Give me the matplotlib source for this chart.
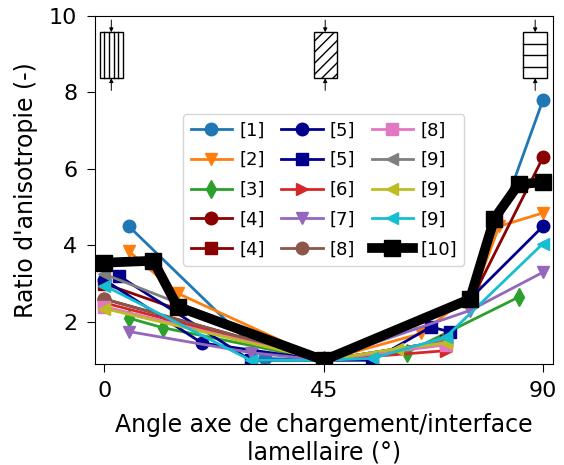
import matplotlib
matplotlib.use("Agg")
import matplotlib.pyplot as plt
from matplotlib.patches import Rectangle

# data (angle in degrees, anisotropy ratio)
labels = ["[1]", "[2]", "[3]", "[4]", "[4]", "[5]", "[5]", "[6]",
          "[7]", "[8]", "[8]", "[9]", "[9]", "[9]", "[10]"]
colors = ["C0", "C1", "C2", "darkred", "darkred", "darkblue", "darkblue", "C3",
          "C4", "C5", "C6", "C7", "C8", "C9", "black"]
markers = ["o", "v", "d", "o", "s", "o", "s", ">",
           "v", "o", "s", "<", "<", "<", "s"]

angles = [
    [5, 33, 45, 75, 90],
    [5, 15, 45, 65, 76, 81, 90],
    [5, 12, 45, 62, 85],
    [0, 45, 75, 90],
    [0, 45, 70],
    [0, 20, 45, 75, 90],
    [3, 30, 55, 67, 71],
    [0, 45, 70],
    [5, 30, 45, 75, 90],
    [0, 45, 70],
    [0, 45, 70],
    [0, 45, 70],
    [0, 45, 60, 70],
    [0, 30, 45, 55, 70, 90],
    [0, 10, 15, 45, 75, 80, 85, 90],
]
ratios = [
    [4.5, 1.05, 1.0, 2.5, 7.8],
    [3.85, 2.75, 1.0, 1.7, 2.8, 4.5, 4.85],
    [2.1, 1.85, 1.0, 1.2, 2.65],
    [2.6, 1.0, 2.5, 6.3],
    [3.0, 1.0, 1.5],
    [3.1, 1.45, 1.0, 2.6, 4.5],
    [3.2, 1.0, 1.0, 1.87, 1.74],
    [2.5, 1.0, 1.25],
    [1.75, 1.2, 1.0, 2.3, 3.3],
    [2.6, 1.0, 1.5],
    [2.4, 1.0, 1.4],
    [3.25, 1.0, 1.5],
    [2.35, 1.0, 1.3, 1.45],
    [2.95, 1.0, 1.0, 1.05, 1.6, 4.05],
    [3.55, 3.6, 2.4, 1.0, 2.6, 4.7, 5.6, 5.65],
]

plt.rcParams["font.size"] = 16

fig = plt.figure(figsize=(5.64, 4.65), dpi=100)
ax = fig.add_axes([0.168, 0.217, 0.812, 0.749])

for i in range(len(labels)):
    if labels[i] == "[10]":
        ax.plot(angles[i], ratios[i], color=colors[i], marker=markers[i],
                lw=7, ms=11, label=labels[i], zorder=5)
    else:
        ax.plot(angles[i], ratios[i], color=colors[i], marker=markers[i],
                lw=2, ms=9, label=labels[i])

# little specimen sketches at the top
def specimen(ax, xc, kind):
    w, y0, y1 = 4.8, 8.37, 9.57
    ax.add_patch(Rectangle((xc - w / 2, y0), w, y1 - y0, fill=False,
                           lw=1, ec="black", zorder=6))
    if kind == "v":
        for f in [0.2, 0.38, 0.62, 0.8]:
            ax.plot([xc - w / 2 + f * w] * 2, [y0, y1], color="black", lw=1, zorder=6)
    elif kind == "h":
        for f in [0.25, 0.5, 0.75]:
            ax.plot([xc - w / 2, xc + w / 2], [y0 + f * (y1 - y0)] * 2,
                    color="black", lw=1, zorder=6)
    else:
        ax.add_patch(Rectangle((xc - w / 2, y0), w, y1 - y0, fill=False, lw=0,
                               hatch="///", zorder=6))
    ax.annotate("", xy=(xc, y1), xytext=(xc, y1 + 0.32),
                arrowprops=dict(arrowstyle="-|>", lw=0.7, color="black",
                                mutation_scale=6, shrinkA=0, shrinkB=0))
    ax.annotate("", xy=(xc, y0), xytext=(xc, y0 - 0.32),
                arrowprops=dict(arrowstyle="-|>", lw=0.7, color="black",
                                mutation_scale=6, shrinkA=0, shrinkB=0))

specimen(ax, 1.4, "v")
specimen(ax, 45.3, "d")
specimen(ax, 88.4, "h")

ax.set_xlim(-2, 92)
ax.set_ylim(0.9, 10)
ax.set_xticks([0, 45, 90])
ax.set_yticks([2, 4, 6, 8, 10])
ax.tick_params(length=5.5, pad=7)
ax.set_xlabel("Angle axe de chargement/interface\nlamellaire (°)", fontsize=17,
              labelpad=8)
ax.set_ylabel("Ratio d'anisotropie (-)", fontsize=17, labelpad=8)

ax.legend(loc="center", ncol=3, fontsize=13, handlelength=2.3,
          columnspacing=0.9, handletextpad=0.4, labelspacing=0.65)

fig.savefig("out.png", dpi=100)
